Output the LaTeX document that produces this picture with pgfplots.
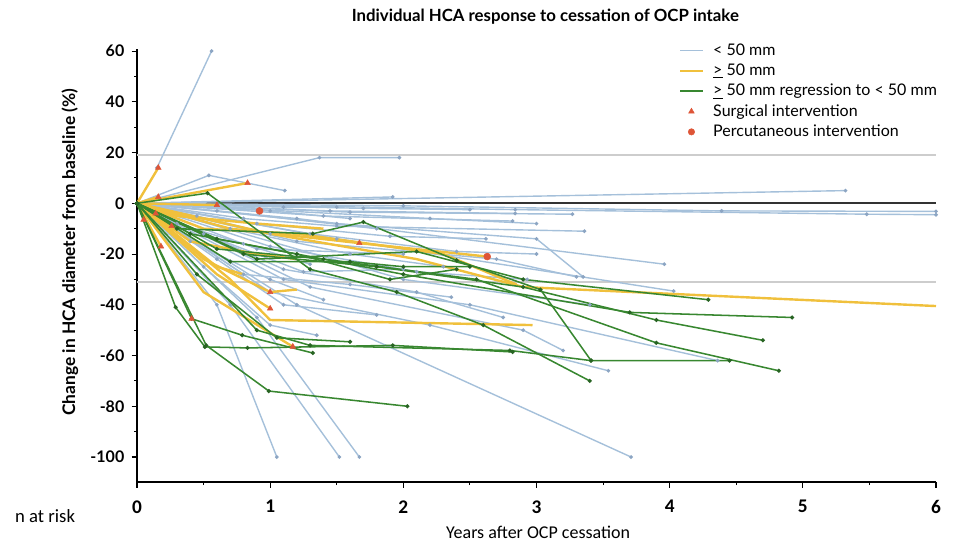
\documentclass[border=0pt]{standalone}
\usepackage{fontspec}
\setmainfont{Lato}
\newfontfamily\carlito{Carlito}
\usepackage{pgfplots}
\pgfplotsset{compat=1.18}
\usetikzlibrary{calc}

\definecolor{hcablue}{RGB}{165,192,218}
\definecolor{hcabluedk}{RGB}{140,165,195}
\definecolor{hcayellow}{RGB}{240,192,60}
\definecolor{hcagreen}{RGB}{56,135,48}
\definecolor{hcagreendk}{RGB}{40,100,35}
\definecolor{hcared}{RGB}{222,85,55}
\definecolor{refgray}{RGB}{205,205,205}

\pgfplotsset{
  bl/.style={forget plot, color=hcablue, line width=1.05pt, mark=*, mark size=0.8pt,
    mark options={fill=hcabluedk, draw=hcabluedk}},
  yl/.style={forget plot, color=hcayellow, line width=1.8pt, mark=none},
  gr/.style={forget plot, color=hcagreen, line width=1.15pt, mark=*, mark size=0.9pt,
    mark options={fill=hcagreendk, draw=hcagreendk}},
}

\begin{document}
\begin{tikzpicture}
\begin{axis}[
  scale only axis,
  width=599.25pt, height=325.4pt,
  xmin=0, xmax=6, ymin=-110, ymax=61,
  axis lines=left,
  axis line style={-, line width=1.4pt, black},
  xtick={0,1,2,3,4,5,6},
  ytick={-100,-80,-60,-40,-20,0,20,40,60},
  minor x tick num=1, minor y tick num=1,
  tick align=outside,
  major tick length=4pt, minor tick length=2pt,
  tick style={line width=0.8pt, black},
  /pgf/number format/assume math mode=true,
  yticklabel style={font=\bfseries\fontsize{12}{12}\selectfont, xshift=-2pt},
  xticklabel style={font=\carlito\bfseries\fontsize{14.5}{14.5}\selectfont, yshift=-6pt},
  clip=false,
  legend style={at={(0.673,1.024)}, anchor=north west, draw=none, fill=none,
    font=\fontsize{12}{12}\selectfont, row sep=1.0pt,
    /tikz/every odd column/.append style={column sep=5pt}},
  legend cell align=left,
]
\addlegendimage{hcablue, line width=1.2pt}
\addlegendentry{< 50 mm}
\addlegendimage{hcayellow, line width=1.6pt}
\addlegendentry{\underline{>} 50 mm}
\addlegendimage{hcagreen, line width=1.4pt}
\addlegendentry{\underline{>} 50 mm regression to < 50 mm}
\addlegendimage{only marks, mark=triangle*, mark size=2.4pt, hcared}
\addlegendentry{Surgical intervention}
\addlegendimage{only marks, mark=*, mark size=2.4pt, hcared}
\addlegendentry{Percutaneous intervention}

% reference lines
\addplot[forget plot, refgray, line width=1.4pt] coordinates {(0,19) (6,19)};
\addplot[forget plot, refgray, line width=1.4pt] coordinates {(0,-31) (6,-31)};
\addplot[forget plot, black!80, line width=1.4pt] coordinates {(0,0) (6,0)};

% < 50 mm
\addplot[bl] coordinates {(0.15,14) (0.56,60)};
\addplot[bl] coordinates {(0,0) (0.54,11) (1.11,5)};
\addplot[bl] coordinates {(0,0) (1.37,18) (1.97,18)};
\addplot[bl] coordinates {(0,0) (5.32,5)};
\addplot[bl] coordinates {(0,0) (1.92,2.5)};
\addplot[bl] coordinates {(0,0) (2.0,-1) (4.39,-3) (6,-3.2)};
\addplot[bl] coordinates {(0,0) (2.84,-2.5) (5.48,-4.3) (6,-4.5)};
\addplot[bl] coordinates {(0,0) (1.1,-1.5) (1.5,-1.5)};
\addplot[bl] coordinates {(0,0) (1.7,-2) (2.5,-2.5)};
\addplot[bl] coordinates {(0,0) (1.45,-3) (2.84,-4)};
\addplot[bl] coordinates {(0,0) (1.6,-3.5) (3.27,-4.3)};
\addplot[bl] coordinates {(0,0) (1.4,-5) (2.82,-7)};
\addplot[bl] coordinates {(0,0) (2.2,-6) (3.0,-8)};
\addplot[bl] coordinates {(0,0) (1.0,-3) (1.6,-6)};
\addplot[bl] coordinates {(0,0) (0.6,-3) (1.8,-10)};
\addplot[bl] coordinates {(0,0) (0.8,-6) (1.5,-9) (3.36,-11)};
\addplot[bl] coordinates {(0,0) (1.2,-6) (3.96,-24)};
\addplot[bl] coordinates {(0,0) (1.5,-14) (4.03,-34.6)};
\addplot[bl] coordinates {(0,0) (1.5,-8) (3.0,-14) (3.35,-29)};
\addplot[bl] coordinates {(0,0) (0.9,-8) (1.9,-13) (2.62,-14)};
\addplot[bl] coordinates {(0,0) (1.2,-15) (2.7,-22) (3.3,-29)};
\addplot[bl] coordinates {(0,0) (0.9,-18) (2.0,-20)};
\addplot[bl] coordinates {(0,0) (0.7,-10) (1.6,-20) (2.3,-25)};
\addplot[bl] coordinates {(0,0) (1.0,-17) (2.1,-27) (2.93,-30)};
\addplot[bl] coordinates {(0,0) (0.5,-12) (1.25,-27) (2.0,-26)};
\addplot[bl] coordinates {(0,0) (2.0,-30) (3.4,-40)};
\addplot[bl] coordinates {(0,0) (1.1,-30) (2.5,-40) (4.36,-62)};
\addplot[bl] coordinates {(0,0) (1.2,-40) (3.71,-100)};
\addplot[bl] coordinates {(0,0) (0.6,-40) (1.05,-100)};
\addplot[bl] coordinates {(0,0) (0.7,-40) (1.52,-100)};
\addplot[bl] coordinates {(0,0) (0.9,-45) (1.67,-100)};
\addplot[bl] coordinates {(0,0) (1.0,-35) (2.2,-48) (3.54,-66)};
\addplot[bl] coordinates {(0,0) (1.3,-33) (2.9,-50) (3.2,-58)};
\addplot[bl] coordinates {(0,0) (0.6,-22) (1.1,-40) (1.8,-44)};
\addplot[bl] coordinates {(0,0) (0.4,-15) (1.0,-30) (1.4,-38)};
\addplot[bl] coordinates {(0,0) (0.8,-28) (1.6,-32) (2.36,-37)};
\addplot[bl] coordinates {(0,0) (0.3,-8) (0.8,-16) (1.3,-24)};
\addplot[bl] coordinates {(0,0) (1.3,-12) (2.4,-19) (3.0,-20)};
\addplot[bl] coordinates {(0,0) (0.45,-5) (1.0,-12)};
\addplot[bl] coordinates {(0,0) (1.1,-26) (2.1,-35) (2.75,-45)};
\addplot[bl] coordinates {(0,0) (0.5,-25) (1.0,-48) (1.35,-52)};

% >= 50 mm
\addplot[yl] coordinates {(0,0) (0.16,14)};
\addplot[yl] coordinates {(0,0) (0.83,8)};
\addplot[yl] coordinates {(0,0) (0.16,2.5)};
\addplot[yl] coordinates {(0,0) (0.6,-0.7)};
\addplot[yl] coordinates {(0,0) (0.14,-4)};
\addplot[yl] coordinates {(0,0) (0.26,-9)};
\addplot[yl] coordinates {(0,0) (0.18,-17)};
\addplot[yl] coordinates {(0,0) (0.3,-5) (0.9,-8) (1.4,-10)};
\addplot[yl] coordinates {(0,0) (0.4,-15) (0.9,-20) (1.2,-22)};
\addplot[yl] coordinates {(0,0) (0.7,-10) (1.67,-15.7) (2.63,-21)};
\addplot[yl] coordinates {(0,0) (1.0,-12) (2.1,-22) (2.9,-33) (6,-40.5)};
\addplot[yl] coordinates {(0,0) (0.5,-10) (1.2,-12) (2.3,-20) (2.85,-32)};
\addplot[yl] coordinates {(0,0) (0.7,-30) (1.0,-46) (2.97,-48)};
\addplot[yl] coordinates {(0,0) (0.5,-22) (1.0,-35) (1.2,-34)};
\addplot[yl] coordinates {(0,0) (0.6,-25) (0.8,-28)};
\addplot[yl] coordinates {(0,0) (0.6,-28) (1.0,-41.5)};
\addplot[yl] coordinates {(0,0) (0.5,-35) (1.17,-56.5)};

% >= 50 mm regression to < 50 mm
\addplot[gr] coordinates {(0,0) (0.52,-56) (0.99,-74) (2.03,-80)};
\addplot[gr] coordinates {(0,0) (0.29,-41) (0.51,-56.6) (0.83,-57) (1.92,-56) (2.82,-58.6)};
\addplot[gr] coordinates {(0,0) (0.41,-45.5) (0.79,-52) (1.32,-59)};
\addplot[gr] coordinates {(0,0) (0.45,-28) (1.05,-53) (1.6,-54.6)};
\addplot[gr] coordinates {(0,0) (0.53,4) (1.3,-26) (1.95,-35) (2.6,-48) (3.4,-70)};
\addplot[gr] coordinates {(0,0) (0.3,-10) (1.32,-12) (1.7,-7.4) (2.4,-22.5) (3.03,-34) (3.41,-62) (4.45,-62)};
\addplot[gr] coordinates {(0,0) (0.6,-18) (1.4,-22) (2.55,-30) (3.9,-55) (4.82,-66)};
\addplot[gr] coordinates {(0,0) (0.8,-20) (1.8,-25) (2.9,-33) (3.9,-46) (4.7,-54)};
\addplot[gr] coordinates {(0,0) (0.6,-14) (2.0,-28) (3.7,-43) (4.92,-45)};
\addplot[gr] coordinates {(0,0) (0.9,-22) (2.1,-19) (2.9,-30) (4.29,-38)};
\addplot[gr] coordinates {(0,0) (0.4,-12) (1.2,-20) (1.9,-30) (2.4,-26)};
\addplot[gr] coordinates {(0,0) (0.7,-23) (1.6,-23) (2.0,-25) (2.5,-25)};
\addplot[gr] coordinates {(0,0) (0.9,-50) (1.3,-56) (2.8,-58) (3.41,-62)};

% interventions
\addplot[forget plot, only marks, mark=triangle*, mark size=2.4pt, hcared] coordinates {
  (0.16,14) (0.83,8) (0.16,2.5) (0.6,-0.7) (0.14,-4) (0.05,-6.5) (0.26,-9)
  (0.18,-17) (1.67,-15.7) (0.41,-45.5) (1.0,-35) (1.0,-41.5) (1.17,-56.5)};
\addplot[forget plot, only marks, mark=*, mark size=2.6pt, hcared] coordinates {
  (0.92,-3) (2.63,-21)};

\coordinate (sw) at (rel axis cs:0,0);
\coordinate (ne) at (rel axis cs:1,1);
\node[font=\bfseries\fontsize{12.6}{12.6}\selectfont] at (rel axis cs:0.511,1.0726) {Individual HCA response to cessation of OCP intake};
\node[rotate=90, font=\bfseries\fontsize{13}{13}\selectfont] at (rel axis cs:-0.0839,0.531) {Change in HCA diameter from baseline (\%)};
\node[font=\carlito\fontsize{13.5}{13.5}\selectfont] at (rel axis cs:0.502,-0.114) {Years after OCP cessation};
\node[font=\carlito\fontsize{14}{14}\selectfont] at (rel axis cs:-0.115,-0.077) {n at risk};
\end{axis}
\path ($(sw)+(-102.75pt,-44.25pt)$) rectangle ($(ne)+(15pt,36.4pt)$);
\end{tikzpicture}
\end{document}
